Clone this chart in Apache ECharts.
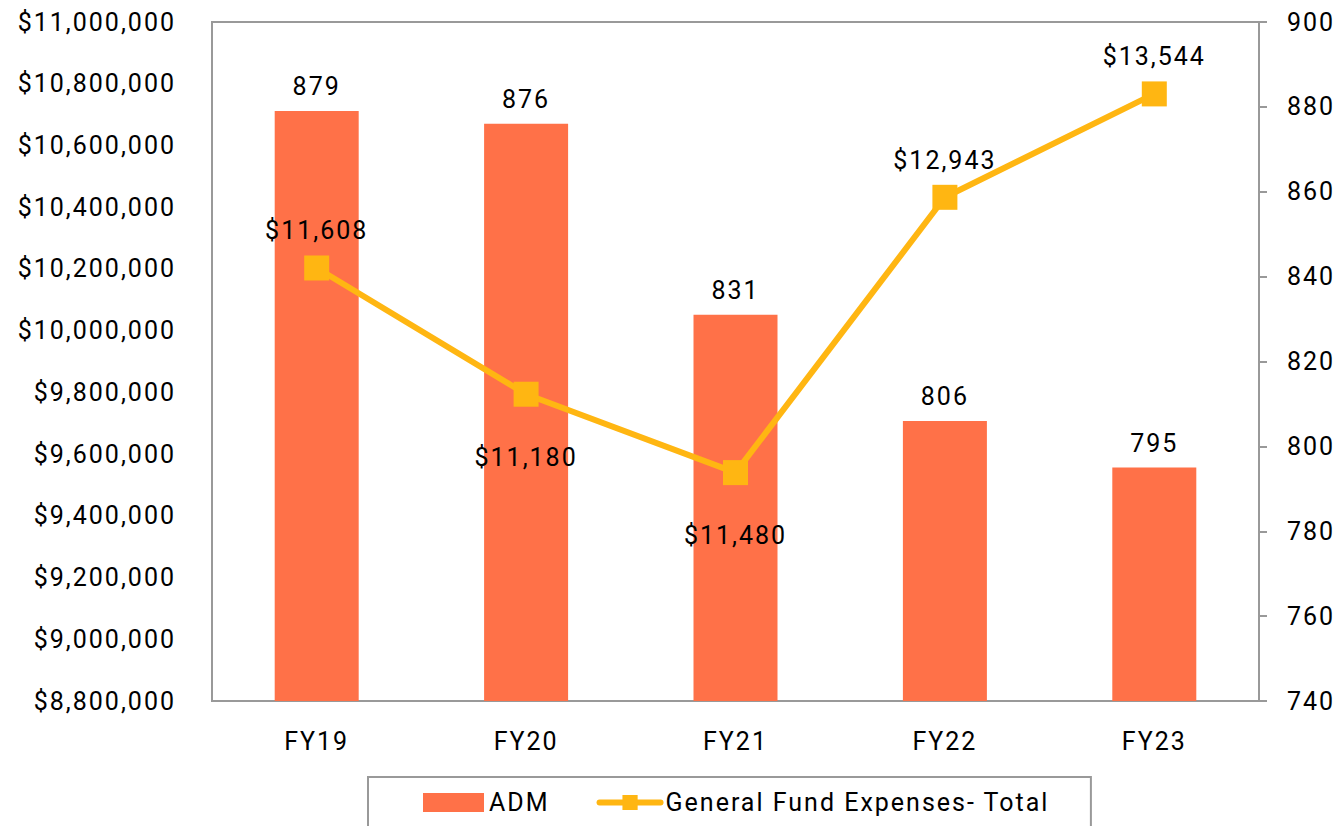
<!DOCTYPE html>
<html>
<head>
<meta charset="utf-8">
<script src="https://cdn.jsdelivr.net/npm/echarts@6/dist/echarts.min.js"></script>
<style>
  html, body { margin: 0; padding: 0; background: #fff; }
  #chart { width: 1342px; height: 826px; }
  /* the source chart has slightly tracked-out text */
  #chart svg text { letter-spacing: 2px; }
</style>
</head>
<body>
<div id="chart"></div>
<script>
const years = ['FY19', 'FY20', 'FY21', 'FY22', 'FY23']

// ADM (right axis)
const adm = [879, 876, 831, 806, 795]

// General fund expenses total (left axis), labelled with the per pupil figure
const gfTotal = [10203000, 9794000, 9540000, 10432000, 10767000]
const perPupil = ['$11,608', '$11,180', '$11,480', '$12,943', '$13,544']

const barColor = '#FF7148'
const lineColor = '#FFB612'
const axisGray = '#999999'
const font = 'Roboto'

const chart = echarts.init(document.getElementById('chart'), null, { renderer: 'svg' })

// which line labels sit under the point
const below = [false, true, true, false, false]

const option = {
  backgroundColor: '#fff',
  animation: false,
  textStyle: { fontFamily: font },

  grid: {
    left: 212,
    right: 83,
    top: 22,
    bottom: 125,
    show: true,
    borderColor: axisGray,
    borderWidth: 2
  },

  legend: {
    left: 368,
    top: 777,
    padding: [13, 97, 40, 55],
    borderColor: axisGray,
    borderWidth: 2,
    itemGap: 53,
    itemWidth: 61,
    itemHeight: 19,
    lineStyle: { width: 6, cap: 'round' },
    textStyle: { color: '#000', fontSize: 25, fontFamily: font },
    data: [
      { name: 'ADM', icon: 'rect' },
      { name: 'General Fund Expenses- Total' }
    ]
  },

  xAxis: {
    type: 'category',
    data: years,
    axisLine: { lineStyle: { color: axisGray, width: 2 } },
    axisTick: { show: false },
    axisLabel: { color: '#000', fontSize: 25, margin: 28 }
  },

  yAxis: [
    {
      type: 'value',
      min: 8800000,
      max: 11000000,
      interval: 200000,
      axisLine: { show: true, lineStyle: { color: axisGray, width: 2 } },
      axisTick: { show: false },
      splitLine: { show: false },
      axisLabel: {
        color: '#000',
        fontSize: 25,
        margin: 36,
        formatter: v => '$' + v.toLocaleString('en-US')
      }
    },
    {
      type: 'value',
      position: 'right',
      min: 740,
      max: 900,
      interval: 20,
      axisLine: { show: true, lineStyle: { color: axisGray, width: 2 } },
      axisTick: { show: true, length: 8, lineStyle: { color: axisGray, width: 2 } },
      splitLine: { show: false },
      axisLabel: { color: '#000', fontSize: 25, margin: 28 }
    }
  ],

  series: [
    {
      name: 'ADM',
      type: 'bar',
      yAxisIndex: 1,
      data: adm,
      barWidth: 84,
      itemStyle: { color: barColor },
      label: {
        show: true,
        position: 'top',
        distance: 12,
        color: '#000',
        fontSize: 25
      }
    },
    {
      name: 'General Fund Expenses- Total',
      type: 'line',
      yAxisIndex: 0,
      symbol: 'rect',
      symbolSize: 25,
      lineStyle: { color: lineColor, width: 6 },
      itemStyle: { color: lineColor },
      z: 3,
      data: gfTotal.map((v, i) => ({
        value: v,
        label: {
          show: true,
          position: below[i] ? 'bottom' : 'top',
          distance: below[i] ? 38 : 12,
          color: '#000',
          fontSize: 25,
          formatter: () => perPupil[i]
        }
      }))
    }
  ]
}

chart.setOption(option)
</script>
</body>
</html>
